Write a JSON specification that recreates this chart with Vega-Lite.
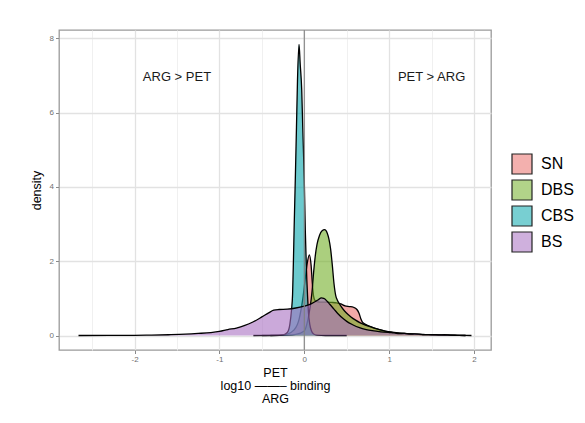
{
  "$schema": "https://vega.github.io/schema/vega-lite/v6.json",
  "width": 432,
  "height": 320,
  "autosize": "none",
  "padding": {"left": 59, "top": 30, "right": 94, "bottom": 73},
  "background": "white",
  "config": {
    "font": "Liberation Sans",
    "view": {"stroke": "#9a9a9a", "strokeWidth": 1.3},
    "axis": {
      "domain": false,
      "tickColor": "#8a8a8a",
      "tickSize": 3.5,
      "tickWidth": 1,
      "labelColor": "#707070",
      "labelFontSize": 8,
      "labelPadding": 2,
      "labelOverlap": false,
      "labelFlush": false,
      "titleColor": "black",
      "titleFontWeight": "normal",
      "titleFont": "Liberation Sans"
    }
  },
  "datasets": {
    "dens": [
      {"g":"SN","x":-0.6,"y":0},{"g":"SN","x":-0.3,"y":0.01},{"g":"SN","x":-0.2,"y":0.04},{"g":"SN","x":-0.12,"y":0.15},{"g":"SN","x":-0.06,"y":0.45},{"g":"SN","x":-0.02,"y":0.95},{"g":"SN","x":0.01,"y":1.5},{"g":"SN","x":0.035,"y":1.95},{"g":"SN","x":0.06,"y":2.17},{"g":"SN","x":0.08,"y":1.9},{"g":"SN","x":0.095,"y":1.4},{"g":"SN","x":0.11,"y":1.05},{"g":"SN","x":0.13,"y":0.93},{"g":"SN","x":0.18,"y":0.9},{"g":"SN","x":0.25,"y":0.9},{"g":"SN","x":0.32,"y":0.89},{"g":"SN","x":0.38,"y":0.88},{"g":"SN","x":0.43,"y":0.85},{"g":"SN","x":0.48,"y":0.8},{"g":"SN","x":0.53,"y":0.78},{"g":"SN","x":0.58,"y":0.76},{"g":"SN","x":0.62,"y":0.7},{"g":"SN","x":0.645,"y":0.6},{"g":"SN","x":0.665,"y":0.46},{"g":"SN","x":0.685,"y":0.36},{"g":"SN","x":0.72,"y":0.3},{"g":"SN","x":0.78,"y":0.24},{"g":"SN","x":0.85,"y":0.18},{"g":"SN","x":0.95,"y":0.12},{"g":"SN","x":1.05,"y":0.08},{"g":"SN","x":1.2,"y":0.05},{"g":"SN","x":1.35,"y":0.03},{"g":"SN","x":1.5,"y":0.02},{"g":"SN","x":1.7,"y":0.01},{"g":"SN","x":1.9,"y":0},
      {"g":"DBS","x":-0.4,"y":0},{"g":"DBS","x":-0.2,"y":0.01},{"g":"DBS","x":-0.1,"y":0.03},{"g":"DBS","x":0,"y":0.12},{"g":"DBS","x":0.04,"y":0.4},{"g":"DBS","x":0.07,"y":0.78},{"g":"DBS","x":0.09,"y":1.15},{"g":"DBS","x":0.11,"y":1.7},{"g":"DBS","x":0.13,"y":2.15},{"g":"DBS","x":0.15,"y":2.45},{"g":"DBS","x":0.18,"y":2.7},{"g":"DBS","x":0.21,"y":2.82},{"g":"DBS","x":0.24,"y":2.85},{"g":"DBS","x":0.27,"y":2.76},{"g":"DBS","x":0.29,"y":2.6},{"g":"DBS","x":0.31,"y":2.33},{"g":"DBS","x":0.33,"y":1.9},{"g":"DBS","x":0.35,"y":1.4},{"g":"DBS","x":0.37,"y":1.08},{"g":"DBS","x":0.39,"y":0.95},{"g":"DBS","x":0.42,"y":0.83},{"g":"DBS","x":0.46,"y":0.7},{"g":"DBS","x":0.5,"y":0.6},{"g":"DBS","x":0.55,"y":0.5},{"g":"DBS","x":0.6,"y":0.42},{"g":"DBS","x":0.66,"y":0.34},{"g":"DBS","x":0.72,"y":0.28},{"g":"DBS","x":0.8,"y":0.22},{"g":"DBS","x":0.89,"y":0.16},{"g":"DBS","x":0.95,"y":0.12},{"g":"DBS","x":1.02,"y":0.1},{"g":"DBS","x":1.1,"y":0.07},{"g":"DBS","x":1.2,"y":0.05},{"g":"DBS","x":1.35,"y":0.03},{"g":"DBS","x":1.5,"y":0.02},{"g":"DBS","x":1.7,"y":0.01},{"g":"DBS","x":1.9,"y":0},
      {"g":"CBS","x":-0.5,"y":0},{"g":"CBS","x":-0.3,"y":0.005},{"g":"CBS","x":-0.25,"y":0.015},{"g":"CBS","x":-0.2,"y":0.08},{"g":"CBS","x":-0.17,"y":0.3},{"g":"CBS","x":-0.15,"y":0.7},{"g":"CBS","x":-0.138,"y":1.1},{"g":"CBS","x":-0.128,"y":2.0},{"g":"CBS","x":-0.12,"y":2.84},{"g":"CBS","x":-0.106,"y":4.18},{"g":"CBS","x":-0.092,"y":5.6},{"g":"CBS","x":-0.08,"y":6.86},{"g":"CBS","x":-0.062,"y":7.83},{"g":"CBS","x":-0.048,"y":7.3},{"g":"CBS","x":-0.03,"y":6.6},{"g":"CBS","x":-0.018,"y":5.6},{"g":"CBS","x":0,"y":4.18},{"g":"CBS","x":0.012,"y":2.84},{"g":"CBS","x":0.02,"y":2.2},{"g":"CBS","x":0.03,"y":1.5},{"g":"CBS","x":0.04,"y":1.0},{"g":"CBS","x":0.05,"y":0.6},{"g":"CBS","x":0.065,"y":0.3},{"g":"CBS","x":0.085,"y":0.12},{"g":"CBS","x":0.11,"y":0.04},{"g":"CBS","x":0.15,"y":0.01},{"g":"CBS","x":0.25,"y":0},{"g":"CBS","x":0.5,"y":0},
      {"g":"BS","x":-2.66,"y":0},{"g":"BS","x":-2.3,"y":0.002},{"g":"BS","x":-2.0,"y":0.005},{"g":"BS","x":-1.8,"y":0.01},{"g":"BS","x":-1.6,"y":0.02},{"g":"BS","x":-1.4,"y":0.035},{"g":"BS","x":-1.25,"y":0.055},{"g":"BS","x":-1.1,"y":0.08},{"g":"BS","x":-1.0,"y":0.11},{"g":"BS","x":-0.9,"y":0.16},{"g":"BS","x":-0.8,"y":0.2},{"g":"BS","x":-0.7,"y":0.27},{"g":"BS","x":-0.6,"y":0.37},{"g":"BS","x":-0.5,"y":0.5},{"g":"BS","x":-0.42,"y":0.61},{"g":"BS","x":-0.36,"y":0.68},{"g":"BS","x":-0.3,"y":0.7},{"g":"BS","x":-0.2,"y":0.71},{"g":"BS","x":-0.1,"y":0.74},{"g":"BS","x":0.0,"y":0.79},{"g":"BS","x":0.06,"y":0.83},{"g":"BS","x":0.12,"y":0.9},{"g":"BS","x":0.17,"y":0.97},{"g":"BS","x":0.2,"y":1.01},{"g":"BS","x":0.23,"y":1.0},{"g":"BS","x":0.27,"y":0.92},{"g":"BS","x":0.3,"y":0.84},{"g":"BS","x":0.35,"y":0.71},{"g":"BS","x":0.4,"y":0.58},{"g":"BS","x":0.45,"y":0.47},{"g":"BS","x":0.5,"y":0.38},{"g":"BS","x":0.57,"y":0.29},{"g":"BS","x":0.65,"y":0.21},{"g":"BS","x":0.73,"y":0.16},{"g":"BS","x":0.8,"y":0.13},{"g":"BS","x":0.9,"y":0.1},{"g":"BS","x":1.0,"y":0.08},{"g":"BS","x":1.06,"y":0.07},{"g":"BS","x":1.12,"y":0.05},{"g":"BS","x":1.18,"y":0.055},{"g":"BS","x":1.25,"y":0.04},{"g":"BS","x":1.3,"y":0.042},{"g":"BS","x":1.38,"y":0.03},{"g":"BS","x":1.45,"y":0.022},{"g":"BS","x":1.52,"y":0.025},{"g":"BS","x":1.58,"y":0.018},{"g":"BS","x":1.65,"y":0.02},{"g":"BS","x":1.72,"y":0.01},{"g":"BS","x":1.8,"y":0.006},{"g":"BS","x":1.9,"y":0.002},{"g":"BS","x":1.97,"y":0}
    ],
    "ann": [
      {"x": -1.5, "y": 6.95, "label": "ARG > PET"},
      {"x": 1.5, "y": 6.95, "label": "PET > ARG"}
    ],
    "vline": [{"x": 0}]
  },
  "layer": [
    {
      "data": {"name": "dens"},
      "transform": [{"filter": "datum.g === 'SN'"}],
      "mark": {"type": "area", "fillOpacity": 0.6, "interpolate": "monotone"},
      "encoding": {
        "x": {
          "field": "x", "type": "quantitative",
          "scale": {"domain": [-2.89, 2.2], "nice": false, "zero": false},
          "axis": {
            "values": [-2.5, -2, -1.5, -1, -0.5, 0, 0.5, 1, 1.5, 2],
            "labelExpr": "datum.value % 1 === 0 ? '' + datum.value : ''",
            "gridColor": {"condition": {"test": "datum.value % 1 === 0", "value": "#e2e2e2"}, "value": "#eeeeee"},
            "gridWidth": {"condition": {"test": "datum.value % 1 === 0", "value": 1.3}, "value": 0.9},
            "tickOpacity": {"condition": {"test": "datum.value % 1 !== 0", "value": 0}, "value": 1},
            "title": ["PET\u00a0\u00a0\u00a0", "log10 \u2014\u2014\u2013 binding", "ARG\u00a0\u00a0\u00a0"],
            "titleFontSize": 12.5,
            "titleLineHeight": 13,
            "titlePadding": 3
          }
        },
        "y": {
          "field": "y", "type": "quantitative",
          "scale": {"domain": [-0.39, 8.22], "nice": false, "zero": false},
          "axis": {
            "values": [0, 1, 2, 3, 4, 5, 6, 7, 8],
            "labelExpr": "datum.value % 2 === 0 ? '' + datum.value : ''",
            "gridColor": {"condition": {"test": "datum.value % 2 === 0", "value": "#e2e2e2"}, "value": "#eeeeee"},
            "gridWidth": {"condition": {"test": "datum.value % 2 === 0", "value": 1.3}, "value": 0.9},
            "tickOpacity": {"condition": {"test": "datum.value % 2 !== 0", "value": 0}, "value": 1},
            "title": "density",
            "titleFontSize": 12.5,
            "titlePadding": 6
          }
        },
        "fill": {
          "field": "g", "type": "nominal",
          "scale": {"domain": ["SN", "DBS", "CBS", "BS"], "range": ["#E9706C", "#73AF28", "#0AA7AD", "#A870C1"]},
          "legend": {
            "title": null,
            "orient": "none",
            "legendX": 452,
            "legendY": 123,
            "padding": 0,
            "symbolType": "square",
            "symbolSize": 400,
            "symbolStrokeColor": "black",
            "symbolStrokeWidth": 1,
            "labelFontSize": 16,
            "labelColor": "black",
            "labelFont": "Liberation Sans",
            "labelOffset": 8,
            "rowPadding": 0,
            "encode": {"symbols": {"update": {"fillOpacity": {"value": 0.55}, "stroke": {"value": "#222222"}, "strokeWidth": {"value": 1.2}}}}
          }
        }
      }
    },
    {
      "data": {"name": "dens"},
      "transform": [{"filter": "datum.g === 'SN'"}],
      "mark": {"type": "line", "color": "black", "strokeWidth": 1.3, "interpolate": "monotone"},
      "encoding": {"x": {"field": "x", "type": "quantitative"}, "y": {"field": "y", "type": "quantitative"}}
    },
    {
      "data": {"name": "dens"},
      "transform": [{"filter": "datum.g === 'DBS'"}],
      "mark": {"type": "area", "fillOpacity": 0.6, "interpolate": "monotone"},
      "encoding": {"x": {"field": "x", "type": "quantitative"}, "y": {"field": "y", "type": "quantitative"}, "fill": {"field": "g", "type": "nominal"}}
    },
    {
      "data": {"name": "dens"},
      "transform": [{"filter": "datum.g === 'DBS'"}],
      "mark": {"type": "line", "color": "black", "strokeWidth": 1.3, "interpolate": "monotone"},
      "encoding": {"x": {"field": "x", "type": "quantitative"}, "y": {"field": "y", "type": "quantitative"}}
    },
    {
      "data": {"name": "dens"},
      "transform": [{"filter": "datum.g === 'CBS'"}],
      "mark": {"type": "area", "fillOpacity": 0.6, "interpolate": "monotone"},
      "encoding": {"x": {"field": "x", "type": "quantitative"}, "y": {"field": "y", "type": "quantitative"}, "fill": {"field": "g", "type": "nominal"}}
    },
    {
      "data": {"name": "dens"},
      "transform": [{"filter": "datum.g === 'CBS'"}],
      "mark": {"type": "line", "color": "black", "strokeWidth": 1.3, "interpolate": "monotone"},
      "encoding": {"x": {"field": "x", "type": "quantitative"}, "y": {"field": "y", "type": "quantitative"}}
    },
    {
      "data": {"name": "dens"},
      "transform": [{"filter": "datum.g === 'BS'"}],
      "mark": {"type": "area", "fillOpacity": 0.6, "interpolate": "monotone"},
      "encoding": {"x": {"field": "x", "type": "quantitative"}, "y": {"field": "y", "type": "quantitative"}, "fill": {"field": "g", "type": "nominal"}}
    },
    {
      "data": {"name": "dens"},
      "transform": [{"filter": "datum.g === 'BS'"}],
      "mark": {"type": "line", "color": "black", "strokeWidth": 1.3, "interpolate": "monotone"},
      "encoding": {"x": {"field": "x", "type": "quantitative"}, "y": {"field": "y", "type": "quantitative"}}
    },
    {
      "data": {"name": "vline"},
      "mark": {"type": "rule", "color": "#808080", "strokeWidth": 1.1},
      "encoding": {"x": {"field": "x", "type": "quantitative"}}
    },
    {
      "data": {"name": "ann"},
      "mark": {"type": "text", "fontSize": 13, "color": "#1a1a1a", "align": "center", "baseline": "middle", "font": "Liberation Sans"},
      "encoding": {
        "x": {"field": "x", "type": "quantitative"},
        "y": {"field": "y", "type": "quantitative"},
        "text": {"field": "label"}
      }
    }
  ]
}
